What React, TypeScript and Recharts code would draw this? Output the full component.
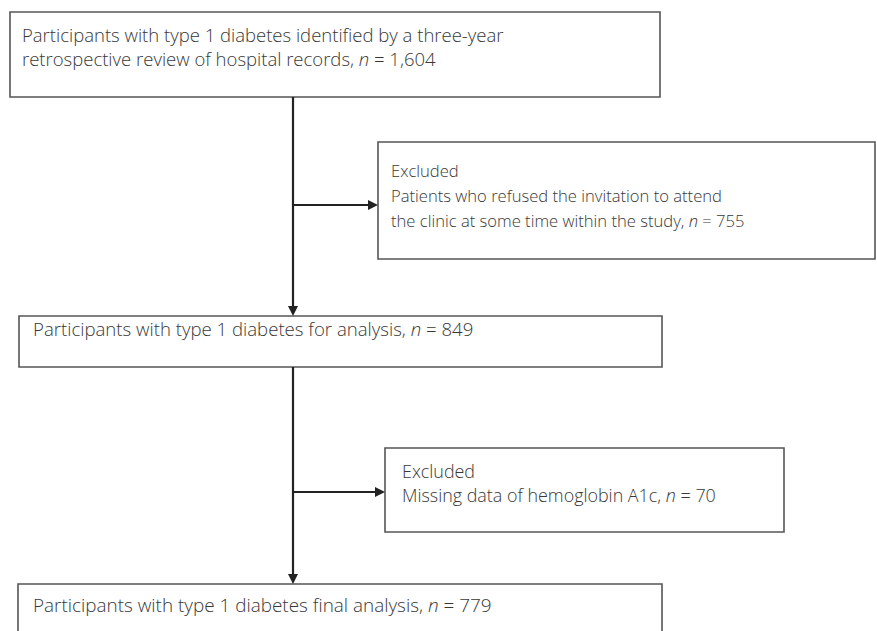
import React from "react";
import { ComposedChart, XAxis, YAxis, Line, Scatter, ReferenceArea } from "recharts";

// Flowchart content (text of each box)
const box1Lines = [
  "Participants with type 1 diabetes identified by a three-year",
  "retrospective review of hospital records, n = 1,604",
];
const box2Lines = [
  "Excluded",
  "Patients who refused the invitation to attend",
  "the clinic at some time within the study, n = 755",
];
const box3Lines = ["Participants with type 1 diabetes for analysis, n = 849"];
const box4Lines = ["Excluded", "Missing data of hemoglobin A1c, n = 70"];
const box5Lines = ["Participants with type 1 diabetes final analysis, n = 779"];
const boxTexts = [box1Lines, box2Lines, box3Lines, box4Lines, box5Lines];

// Layout (chart coordinate space = pixels of the 877x631 figure)
const boxFrames = [
  { x1: 10, x2: 660, y1: 12, y2: 97, tx: 22, ty: 42, dy: 23.5, fs: 18.5 },
  { x1: 378, x2: 875, y1: 142, y2: 259, tx: 391, ty: 177, dy: 25, fs: 16.6 },
  { x1: 19, x2: 662, y1: 316, y2: 367, tx: 33, ty: 336, dy: 22, fs: 18.6 },
  { x1: 385, x2: 784, y1: 448, y2: 532, tx: 402, ty: 478, dy: 24, fs: 17.9 },
  { x1: 18, x2: 662, y1: 584, y2: 640, tx: 33, ty: 612, dy: 22, fs: 18.9 },
];

const connectors = [
  [{ x: 293, y: 97 }, { x: 293, y: 308 }],
  [{ x: 293, y: 367 }, { x: 293, y: 576 }],
  [{ x: 293, y: 205 }, { x: 370, y: 205 }],
  [{ x: 293, y: 492 }, { x: 377, y: 492 }],
];

const arrowHeads = [
  { x: 293, y: 316, dir: "down" },
  { x: 293, y: 584, dir: "down" },
  { x: 378, y: 205, dir: "right" },
  { x: 385, y: 492, dir: "right" },
];

const textPoints = boxTexts.flatMap((lines, b) =>
  lines.map((text, i) => ({
    x: boxFrames[b].tx,
    y: boxFrames[b].ty + i * boxFrames[b].dy,
    fs: boxFrames[b].fs,
    text,
  }))
);

const FONT = "'Open Sans', 'Noto Sans', sans-serif";
const TEXT_COLOR = "#383838";

const TextShape = (props: any) => {
  const { cx, cy, payload } = props;
  const t: string = payload.text;
  const idx = t.indexOf("n = ");
  let content: React.ReactNode = t;
  if (idx >= 0) {
    content = (
      <>
        <tspan>{t.slice(0, idx)}</tspan>
        <tspan fontStyle="italic">n</tspan>
        <tspan>{t.slice(idx + 1)}</tspan>
      </>
    );
  }
  return (
    <text
      x={cx}
      y={cy}
      fontFamily={FONT}
      fontSize={payload.fs}
      fontWeight={300}
      fill={TEXT_COLOR}
    >
      {content}
    </text>
  );
};

const ArrowShape = (props: any) => {
  const { cx, cy, payload } = props;
  const w = 5;
  const l = 10;
  const d =
    payload.dir === "down"
      ? `M${cx},${cy} L${cx - w},${cy - l} L${cx + w},${cy - l} Z`
      : `M${cx},${cy} L${cx - l},${cy - w} L${cx - l},${cy + w} Z`;
  return <path d={d} fill="#222" />;
};

export default function App() {
  return (
    <div style={{ position: "absolute", left: 0, top: 0, width: 877, height: 631, background: "#fff" }}>
      <ComposedChart width={877} height={631} margin={{ top: 0, right: 0, bottom: 0, left: 0 }}>
        <XAxis dataKey="x" type="number" domain={[0, 877]} hide allowDataOverflow />
        <YAxis dataKey="y" type="number" domain={[0, 631]} reversed hide allowDataOverflow />
        {boxFrames.map((b, i) => (
          <ReferenceArea
            key={"box" + i}
            x1={b.x1}
            x2={b.x2}
            y1={b.y1}
            y2={b.y2}
            fill="#fff"
            fillOpacity={1}
            stroke="#555"
            strokeWidth={1.6}
            ifOverflow="visible"
          />
        ))}
        {connectors.map((seg, i) => (
          <Line
            key={"ln" + i}
            data={seg}
            dataKey="y"
            stroke="#222"
            strokeWidth={2.2}
            dot={false}
            activeDot={false}
            isAnimationActive={false}
            type="linear"
          />
        ))}
        <Scatter data={arrowHeads} dataKey="y" shape={<ArrowShape />} isAnimationActive={false} />
        <Scatter data={textPoints} dataKey="y" shape={<TextShape />} isAnimationActive={false} />
      </ComposedChart>
    </div>
  );
}
